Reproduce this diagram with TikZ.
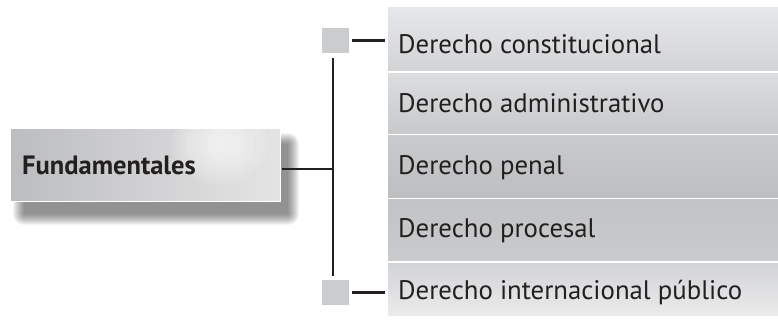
\documentclass[tikz,border=0pt]{standalone}
\usepackage{fontspec}
\setmainfont{PT Sans}
\definecolor{ink}{HTML}{231F20}
\definecolor{sqgray}{HTML}{CBCCCE}
\begin{document}
\begin{tikzpicture}[x=1pt,y=-1pt,
  conn/.style={draw=ink,line width=2.8pt},
  rowbox/.style={anchor=north west,minimum width=390pt,inner sep=0pt,draw=none},
  rowtext/.style={anchor=base west,inner sep=0pt,text=ink,font=\fontsize{26.8}{30}\selectfont},
  marker/.style={fill=sqgray,minimum width=27pt,minimum height=25pt,inner sep=0pt},
  mainbox/.style={anchor=north west,minimum width=270pt,minimum height=73pt,inner sep=0pt,
    left color={rgb,255:red,188;green,189;blue,191},right color={rgb,255:red,228;green,228;blue,229}}]
\useasboundingbox (0,0) rectangle (778,321);
\fill[white] (0,0) rectangle (778,321);

% soft shadow under the main box
\foreach \i in {0,...,11}{
  \fill[black,opacity=0.045,rounded corners=\i pt] (24-\i,144-\i) rectangle (288+\i,214+\i);
}

% main box with a soft highlight
\node[mainbox] (fund) at (10,128) {};
\begin{scope}
  \clip (fund.north west) rectangle (fund.south east);
  \foreach \r in {40,36,...,4}{
    \fill[white,opacity=0.1] (220,144) ellipse ({\r*1.2} and \r);
  }
\end{scope}
\draw[white,line width=1pt] (fund.north west) rectangle (fund.south east);
\node[anchor=base west,inner sep=0pt,text=ink,font=\bfseries\fontsize{26.5}{30}\selectfont] (tf) at (22,174) {Fundamentales};

% five rows
\node[rowbox,minimum height=63pt,top color={rgb,255:red,230;green,231;blue,232},bottom color={rgb,255:red,211;green,212;blue,214}] (b1) at (388,7) {};
\node[rowbox,minimum height=60pt,top color={rgb,255:red,220;green,221;blue,223},bottom color={rgb,255:red,200;green,201;blue,203}] (b2) at (388,73) {};
\node[rowbox,minimum height=62pt,top color={rgb,255:red,201;green,202;blue,204},bottom color={rgb,255:red,189;green,190;blue,192}] (b3) at (388,135) {};
\node[rowbox,minimum height=61pt,top color={rgb,255:red,194;green,195;blue,197},bottom color={rgb,255:red,201;green,202;blue,204}] (b4) at (388,199) {};
\node[rowbox,minimum height=52pt,top color={rgb,255:red,210;green,211;blue,213},bottom color={rgb,255:red,235;green,235;blue,236}] (b5) at (388,263) {};

\node[rowtext] (t1) at (398,53) {Derecho constitucional};
\node[rowtext] (t2) at (398,112) {Derecho administrativo};
\node[rowtext] (t3) at (398,174) {Derecho penal};
\node[rowtext] (t4) at (398,237) {Derecho procesal};
\node[rowtext] (t5) at (398,299) {Derecho internacional público};

% end markers of the bracket
\node[marker] (sq1) at (335.5,40.5) {};
\node[marker] (sq5) at (335.5,292.5) {};

% bracket
\coordinate (vtop) at (333,58);
\coordinate (vbot) at (333,276);
\coordinate (jn) at (333,169);
\draw[conn] (vtop) -- (vbot);
\draw[conn] (fund.east |- jn) ++(1.5,0) -- (jn);
\draw[conn,shorten <=3pt,shorten >=3pt] (sq1.east) -- (b1.west |- sq1.east);
\draw[conn,shorten <=3pt,shorten >=3pt] (sq5.east) -- (b5.west |- sq5.east);
\end{tikzpicture}
\end{document}
